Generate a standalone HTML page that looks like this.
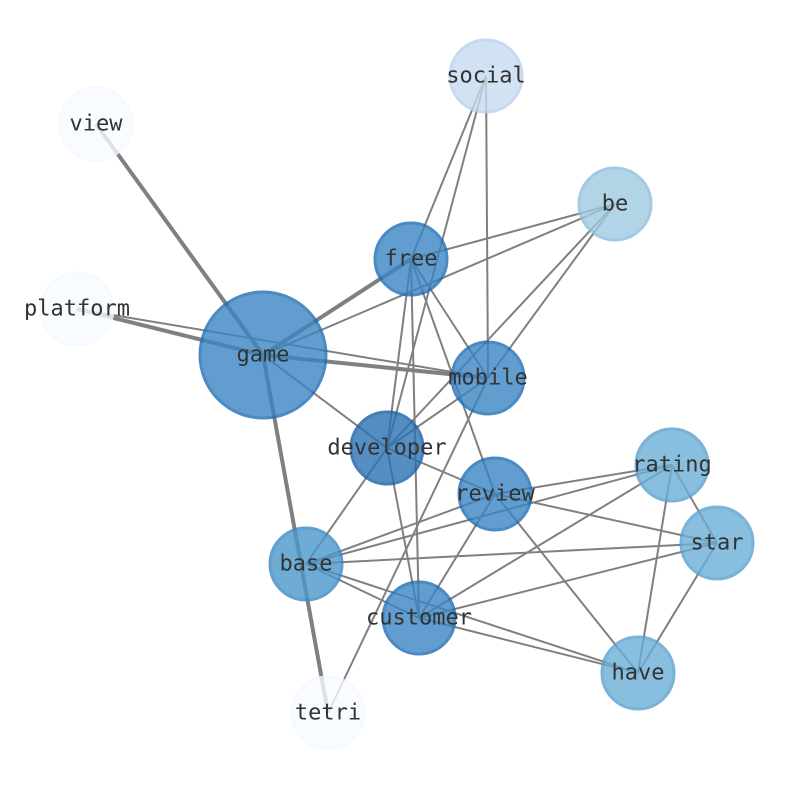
<!DOCTYPE html>
<html><head><meta charset="utf-8"><style>html,body{margin:0;padding:0;background:#fff}</style></head>
<body>
<svg width="794" height="790" viewBox="0 0 794 790" xmlns="http://www.w3.org/2000/svg">
<g stroke="#808080" stroke-width="2" fill="none">
<line x1="96" y1="124" x2="263" y2="355" stroke-width="4"/>
<line x1="77" y1="309" x2="263" y2="355" stroke-width="4"/>
<line x1="263" y1="355" x2="411" y2="259" stroke-width="4"/>
<line x1="263" y1="355" x2="488" y2="378" stroke-width="4"/>
<line x1="263" y1="355" x2="328" y2="713" stroke-width="4"/>
<line x1="77" y1="309" x2="488" y2="378"/>
<line x1="263" y1="355" x2="387" y2="448"/>
<line x1="263" y1="355" x2="615" y2="204"/>
<line x1="486" y1="76" x2="411" y2="259"/>
<line x1="486" y1="76" x2="387" y2="448"/>
<line x1="486" y1="76" x2="488" y2="378"/>
<line x1="615" y1="204" x2="411" y2="259"/>
<line x1="615" y1="204" x2="488" y2="378"/>
<line x1="615" y1="204" x2="387" y2="448"/>
<line x1="411" y1="259" x2="488" y2="378"/>
<line x1="411" y1="259" x2="387" y2="448"/>
<line x1="411" y1="259" x2="495" y2="494"/>
<line x1="411" y1="259" x2="419" y2="618"/>
<line x1="488" y1="378" x2="387" y2="448"/>
<line x1="488" y1="378" x2="328" y2="713"/>
<line x1="387" y1="448" x2="495" y2="494"/>
<line x1="387" y1="448" x2="419" y2="618"/>
<line x1="387" y1="448" x2="306" y2="564"/>
<line x1="495" y1="494" x2="306" y2="564"/>
<line x1="495" y1="494" x2="419" y2="618"/>
<line x1="495" y1="494" x2="717" y2="543"/>
<line x1="495" y1="494" x2="638" y2="673"/>
<line x1="495" y1="494" x2="672" y2="465"/>
<line x1="672" y1="465" x2="306" y2="564"/>
<line x1="672" y1="465" x2="419" y2="618"/>
<line x1="672" y1="465" x2="717" y2="543"/>
<line x1="672" y1="465" x2="638" y2="673"/>
<line x1="717" y1="543" x2="306" y2="564"/>
<line x1="717" y1="543" x2="419" y2="618"/>
<line x1="717" y1="543" x2="638" y2="673"/>
<line x1="419" y1="618" x2="638" y2="673"/>
<line x1="306" y1="564" x2="638" y2="673"/>
<line x1="306" y1="564" x2="419" y2="618"/>
</g>
<g stroke-width="3" opacity="0.8">
<circle cx="486" cy="76" r="36" fill="#c6dbef" stroke="#b7d1ea"/>
<circle cx="96" cy="124" r="36" fill="#f7fbff" stroke="#f4f9fe"/>
<circle cx="615" cy="204" r="36" fill="#9ecae1" stroke="#8cbedc"/>
<circle cx="77" cy="309" r="36" fill="#f7fbff" stroke="#f4f9fe"/>
<circle cx="411" cy="259" r="36" fill="#3a85c2" stroke="#1f6db3"/>
<circle cx="263" cy="355" r="63" fill="#3a85c2" stroke="#1f6db3"/>
<circle cx="488" cy="378" r="36" fill="#3a85c2" stroke="#1f6db3"/>
<circle cx="387" cy="448" r="36" fill="#2b73b3" stroke="#1a5fa3"/>
<circle cx="672" cy="465" r="36" fill="#6baed6" stroke="#5aa0cf"/>
<circle cx="495" cy="494" r="36" fill="#3a85c2" stroke="#1f6db3"/>
<circle cx="717" cy="543" r="36" fill="#6baed6" stroke="#5aa0cf"/>
<circle cx="306" cy="564" r="36" fill="#4b97cb" stroke="#3a88c2"/>
<circle cx="419" cy="618" r="36" fill="#3a85c2" stroke="#1f6db3"/>
<circle cx="638" cy="673" r="36" fill="#6baed6" stroke="#5aa0cf"/>
<circle cx="328" cy="713" r="36" fill="#f7fbff" stroke="#f4f9fe"/>
</g>
<g font-family="'DejaVu Sans Mono','Liberation Mono',monospace" font-size="22" fill="#333" text-anchor="middle" dominant-baseline="central">
<text x="486" y="76">social</text>
<text x="96" y="124">view</text>
<text x="615" y="204">be</text>
<text x="77" y="309">platform</text>
<text x="411" y="259">free</text>
<text x="263" y="355">game</text>
<text x="488" y="378">mobile</text>
<text x="387" y="448">developer</text>
<text x="672" y="465">rating</text>
<text x="495" y="494">review</text>
<text x="717" y="543">star</text>
<text x="306" y="564">base</text>
<text x="419" y="618">customer</text>
<text x="638" y="673">have</text>
<text x="328" y="713">tetri</text>
</g>
</svg>
</body></html>
